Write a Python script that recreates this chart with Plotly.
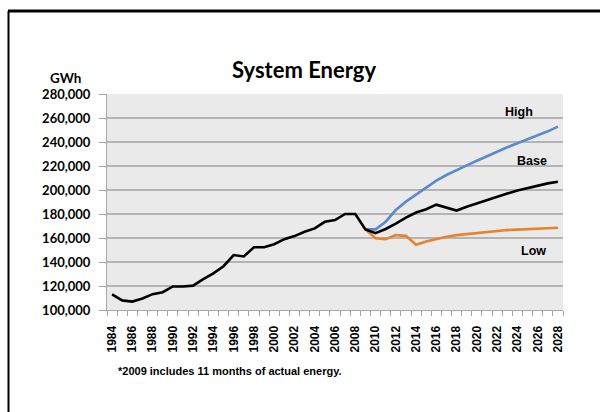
import plotly.graph_objects as go

years_hist = list(range(1984, 2010))
actual = [113000, 108000, 107000, 109600, 113200, 114800, 119600, 119600, 120300, 125800,
          130500, 136500, 145800, 144600, 152300, 152300, 154800, 159000, 161600, 165200,
          168000, 173500, 175000, 180000, 180000, 167200]

years_fc = list(range(2009, 2029))
base = [167200, 164000, 167500, 172000, 177000, 181200, 184000, 187800, 185300, 182900,
        186000, 188900, 191600, 194300, 197000, 199500, 201700, 203800, 205500, 206800]
high = [167200, 167200, 173600, 183300, 190300, 195900, 202200, 207800, 212500, 216700,
        220500, 224400, 228300, 232000, 235600, 238900, 242200, 245600, 248900, 252800]
low = [167200, 159800, 159000, 162400, 161800, 154300, 157000, 159200, 161000, 162400,
       163300, 164300, 165000, 166000, 166600, 167000, 167400, 168000, 168300, 168600]

x_labels = list(range(1984, 2029, 2))
y_ticks = list(range(100000, 280001, 20000))

hist_and_base_x = years_hist + years_fc[1:]
hist_and_base_y = actual + base[1:]

fig = go.Figure()
fig.add_trace(go.Scatter(x=years_fc, y=high, mode="lines", name="High",
                         line=dict(color="#5B8BCB", width=2.6)))
fig.add_trace(go.Scatter(x=years_fc, y=low, mode="lines", name="Low",
                         line=dict(color="#E8822C", width=2.6)))
fig.add_trace(go.Scatter(x=hist_and_base_x, y=hist_and_base_y, mode="lines", name="Base",
                         line=dict(color="#000000", width=2.6)))

lab_font = dict(family="Liberation Sans, Arial", size=12.5, color="#000000")
for txt, xv, yv in [("High", 2024.2, 265200), ("Base", 2025.4, 224400), ("Low", 2025.6, 149400)]:
    fig.add_annotation(x=xv, y=yv, text="<b>%s</b>" % txt, showarrow=False,
                       font=lab_font, xanchor="center", yanchor="middle")

fig.add_annotation(xref="paper", yref="paper", x=(304 - 107) / 456, y=1 + (94 - 70) / 216,
                   text="<b>System Energy</b>", showarrow=False, xanchor="center", yanchor="middle",
                   font=dict(family="Lato", size=22, color="#000000"))
fig.add_annotation(xref="paper", yref="paper", x=(65 - 107) / 456, y=1 + (94 - 78) / 216,
                   text="<b>GWh</b>", showarrow=False, xanchor="center", yanchor="middle",
                   font=dict(family="Lato", size=13.5, color="#000000"))
fig.add_annotation(xref="paper", yref="paper", x=(116 - 107) / 456, y=-(371 - 310) / 216,
                   text="<b>*2009 includes 11 months of actual energy.</b>", showarrow=False,
                   xanchor="left", yanchor="middle",
                   font=dict(family="Liberation Sans, Arial", size=11, color="#000000"))

# frame lines
fig.add_shape(type="line", xref="paper", yref="paper", x0=(8 - 107) / 456, x1=(600 - 107) / 456,
              y0=1 + (94 - 11) / 216, y1=1 + (94 - 11) / 216, line=dict(color="#000000", width=3))
fig.add_shape(type="line", xref="paper", yref="paper", x0=(8.5 - 107) / 456, x1=(8.5 - 107) / 456,
              y0=1 + (94 - 11) / 216, y1=-(420 - 310) / 216, line=dict(color="#000000", width=2))

fig.update_layout(
    width=600, height=412,
    margin=dict(l=107, r=37, t=94, b=102),
    paper_bgcolor="#FFFFFF", plot_bgcolor="#EAEAEA",
    showlegend=False,
)
fig.update_xaxes(
    range=[1983.5, 2028.5], tickvals=x_labels, ticktext=[str(v) for v in x_labels],
    tickangle=-90, ticks="", showgrid=False, zeroline=False,
    showline=True, linecolor="#A6A6A6", linewidth=1,
    tickfont=dict(family="Liberation Sans, Arial", size=12, color="#000000", weight="bold"),
    ticklabelstandoff=10,
    minor=dict(tickvals=[y - 0.5 for y in range(1984, 2030)], ticks="outside", ticklen=5,
               tickcolor="#A6A6A6", tickwidth=1, showgrid=False),
)
fig.update_yaxes(
    range=[100000, 280000], tickvals=y_ticks, tickformat=",",
    showgrid=True, gridcolor="#B4B4B4", gridwidth=1.5, zeroline=False,
    showline=True, linecolor="#A6A6A6", linewidth=1,
    ticks="outside", ticklen=7, tickcolor="#A6A6A6",
    tickfont=dict(family="Lato", size=13, color="#000000", weight="bold"),
    ticklabelstandoff=6,
)

fig.write_html("out.html")
